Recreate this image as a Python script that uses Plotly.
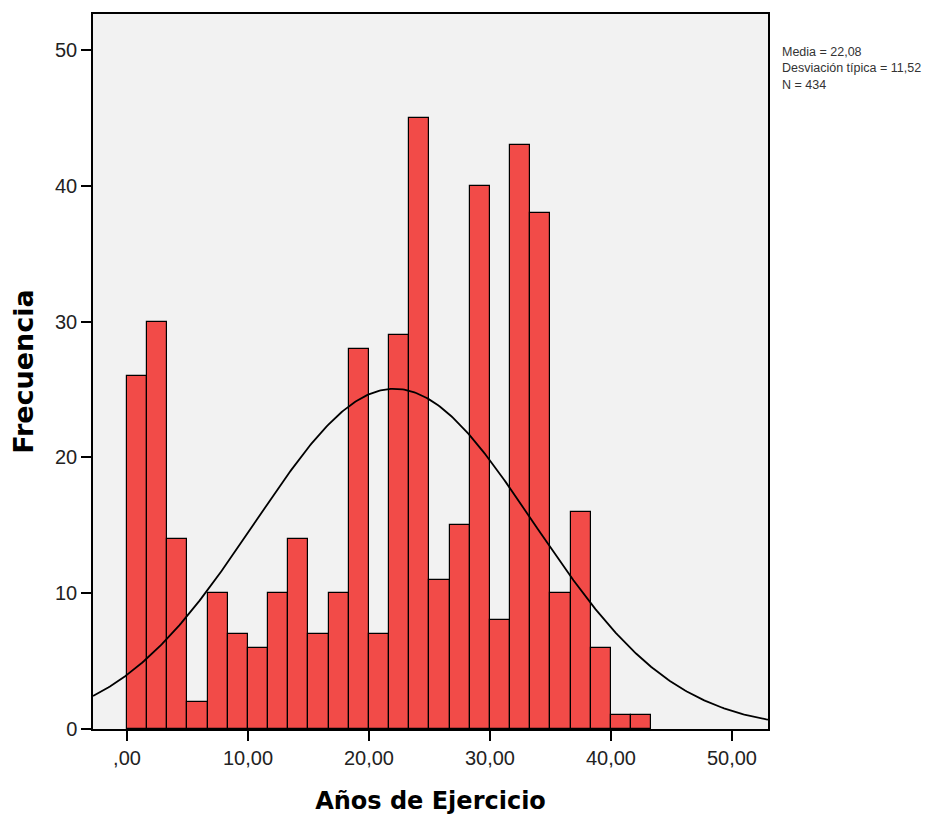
import numpy as np
import plotly.graph_objects as go

# Histogram data (SPSS style): bins of width 5/3 starting at 0
bin_start = 0.0
bin_width = 5.0 / 3.0
counts = [26, 30, 14, 2, 10, 7, 6, 10, 14, 7, 10, 28, 7, 29, 45, 11, 15, 40, 8, 43, 38, 10, 16, 6, 1, 1]

# Summary statistics shown on the chart
mean_val = 22.08
sd_val = 11.52
n_val = 434

x_tickvals = [0, 10, 20, 30, 40, 50]
x_ticktext = [",00", "10,00", "20,00", "30,00", "40,00", "50,00"]
y_tickvals = [0, 10, 20, 30, 40, 50]

centers = [bin_start + (i + 0.5) * bin_width for i in range(len(counts))]

x_min, x_max = -2.81, 52.98
xs = np.linspace(x_min, x_max, 400)
ys = n_val * bin_width / (sd_val * np.sqrt(2 * np.pi)) * np.exp(-0.5 * ((xs - mean_val) / sd_val) ** 2)

fig = go.Figure()
fig.add_trace(go.Bar(
    x=centers, y=counts, width=bin_width,
    marker=dict(color="#f24b48", line=dict(color="#000000", width=1.2)),
    hoverinfo="x+y", showlegend=False,
))
fig.add_trace(go.Scatter(
    x=xs, y=ys, mode="lines",
    line=dict(color="#000000", width=1.8),
    showlegend=False, hoverinfo="skip",
))

tick_font = dict(family="Liberation Sans, Arial, sans-serif", size=20, color="#222222")

fig.update_layout(
    width=942, height=810,
    margin=dict(l=85, r=182, t=4, b=89),
    paper_bgcolor="#ffffff",
    plot_bgcolor="#f2f2f2",
    bargap=0,
    xaxis=dict(
        range=[x_min, x_max],
        tickvals=x_tickvals, ticktext=x_ticktext,
        ticks="outside", ticklen=10, tickwidth=1.5, tickcolor="#000000",
        showline=True, linecolor="#000000", linewidth=1.5, mirror=True,
        showgrid=False, zeroline=False,
        tickfont=tick_font,
        title=dict(text="<b>Años de Ejercicio</b>",
                   font=dict(family="DejaVu Sans, sans-serif", size=24, color="#000000"),
                   standoff=24),
    ),
    yaxis=dict(
        range=[0, 52.64],
        tickvals=y_tickvals,
        ticks="outside", ticklen=10, tickwidth=1.5, tickcolor="#000000",
        showline=True, linecolor="#000000", linewidth=1.5, mirror=True,
        showgrid=False, zeroline=False,
        tickfont=tick_font,
        title=dict(text="<b>Frecuencia</b>",
                   font=dict(family="DejaVu Sans, sans-serif", size=27, color="#000000"),
                   standoff=16),
    ),
    annotations=[dict(
        xref="paper", yref="paper", x=1.0, y=1.0,
        xshift=12, yshift=-29,
        xanchor="left", yanchor="top", align="left", showarrow=False,
        text=f"Media = {mean_val:.2f}".replace(".", ",")
             + f"<br>Desviación típica = {sd_val:.2f}".replace(".", ",")
             + f"<br>N = {n_val}",
        font=dict(family="Liberation Sans, Arial, sans-serif", size=12.5, color="#333333"),
    )],
)

fig.write_html("out.html")
